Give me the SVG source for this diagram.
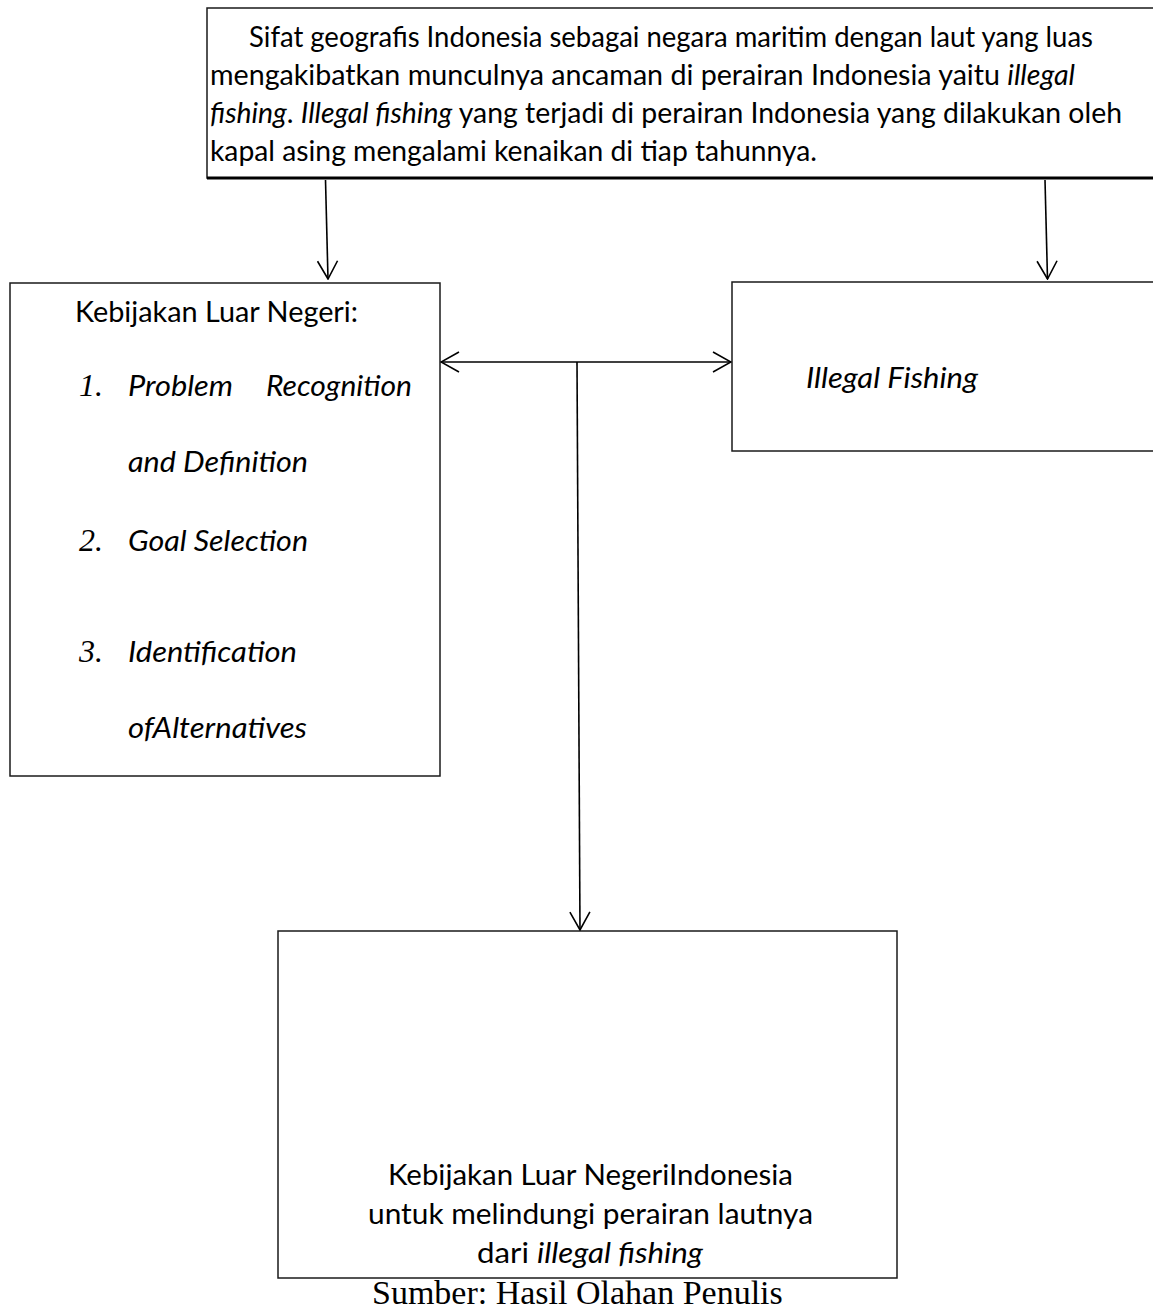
<svg xmlns="http://www.w3.org/2000/svg" width="1153" height="1310" viewBox="0 0 1153 1310">
<style>
.box{fill:#fff;stroke:#1a1a1a;stroke-width:1.5}
.t{font-family:Lato,"Liberation Sans",sans-serif;font-size:28.5px;fill:#000}
.i{font-style:italic}
.num{font-family:"Liberation Serif",serif;font-style:italic;font-size:32px;fill:#000}
.cap{font-family:"Liberation Serif",serif;font-size:34px;fill:#000}
.con{fill:none;stroke:#000;stroke-width:1.6}
</style>
<defs>
<marker id="ah" viewBox="0 0 20 22" refX="19" refY="11" markerWidth="20" markerHeight="22" markerUnits="userSpaceOnUse" orient="auto-start-reverse">
<path d="M1,1 L19,11 L1,21" fill="none" stroke="#000" stroke-width="1.6"/>
</marker>
</defs>
<rect width="1153" height="1310" fill="#fff"/>
<g id="node-top">
<rect class="box" x="207" y="8" width="1000" height="170"/>
<line x1="207" y1="178" x2="1153" y2="178" stroke="#000" stroke-width="3"/>
<text class="t" x="249" y="47" textLength="844" lengthAdjust="spacingAndGlyphs">Sifat geografis Indonesia sebagai negara maritim dengan laut yang luas</text>
<text class="t" x="210" y="85" textLength="865" lengthAdjust="spacingAndGlyphs">mengakibatkan munculnya ancaman di perairan Indonesia yaitu <tspan class="i">illegal</tspan></text>
<text class="t" x="210" y="123" textLength="912" lengthAdjust="spacingAndGlyphs"><tspan class="i">fishing</tspan>. <tspan class="i">Illegal fishing</tspan> yang terjadi di perairan Indonesia yang dilakukan oleh</text>
<text class="t" x="210" y="161" textLength="607" lengthAdjust="spacingAndGlyphs">kapal asing mengalami kenaikan di tiap tahunnya.</text>
</g>
<g id="node-left">
<rect class="box" x="10" y="283" width="430" height="493"/>
<text class="t" x="75" y="322" textLength="283" lengthAdjust="spacingAndGlyphs">Kebijakan Luar Negeri:</text>
<text class="num" x="79" y="396">1.</text>
<text class="t i" x="128" y="396" textLength="105" lengthAdjust="spacingAndGlyphs">Problem</text>
<text class="t i" x="266" y="396" textLength="146" lengthAdjust="spacingAndGlyphs">Recognition</text>
<text class="t i" x="128" y="472" textLength="180" lengthAdjust="spacingAndGlyphs">and Definition</text>
<text class="num" x="79" y="551">2.</text>
<text class="t i" x="128" y="551" textLength="180" lengthAdjust="spacingAndGlyphs">Goal Selection</text>
<text class="num" x="79" y="662">3.</text>
<text class="t i" x="128" y="662" textLength="169" lengthAdjust="spacingAndGlyphs">Identification</text>
<text class="t i" x="128" y="738" textLength="179" lengthAdjust="spacingAndGlyphs">ofAlternatives</text>
</g>
<g id="node-right">
<rect class="box" x="732" y="282" width="500" height="169"/>
<text class="t i" x="806" y="388" textLength="172" lengthAdjust="spacingAndGlyphs">Illegal Fishing</text>
</g>
<g id="node-bottom">
<rect class="box" x="278" y="931" width="619" height="347"/>
<text class="t" x="388" y="1185" textLength="405" lengthAdjust="spacingAndGlyphs">Kebijakan Luar NegeriIndonesia</text>
<text class="t" x="368" y="1224" textLength="445" lengthAdjust="spacingAndGlyphs">untuk melindungi perairan lautnya</text>
<text class="t" x="477" y="1263" textLength="226" lengthAdjust="spacingAndGlyphs">dari <tspan class="i">illegal fishing</tspan></text>
</g>
<text id="caption" class="cap" x="372" y="1304">Sumber: Hasil Olahan Penulis</text>
<g id="connectors">
<line class="con" x1="325.5" y1="180" x2="328" y2="279" marker-end="url(#ah)"/>
<line class="con" x1="1045" y1="180" x2="1047.5" y2="279" marker-end="url(#ah)"/>
<line class="con" x1="441" y1="362" x2="731" y2="362" marker-start="url(#ah)" marker-end="url(#ah)"/>
<line class="con" x1="577" y1="362" x2="580" y2="930" marker-end="url(#ah)"/>
</g>
</svg>
